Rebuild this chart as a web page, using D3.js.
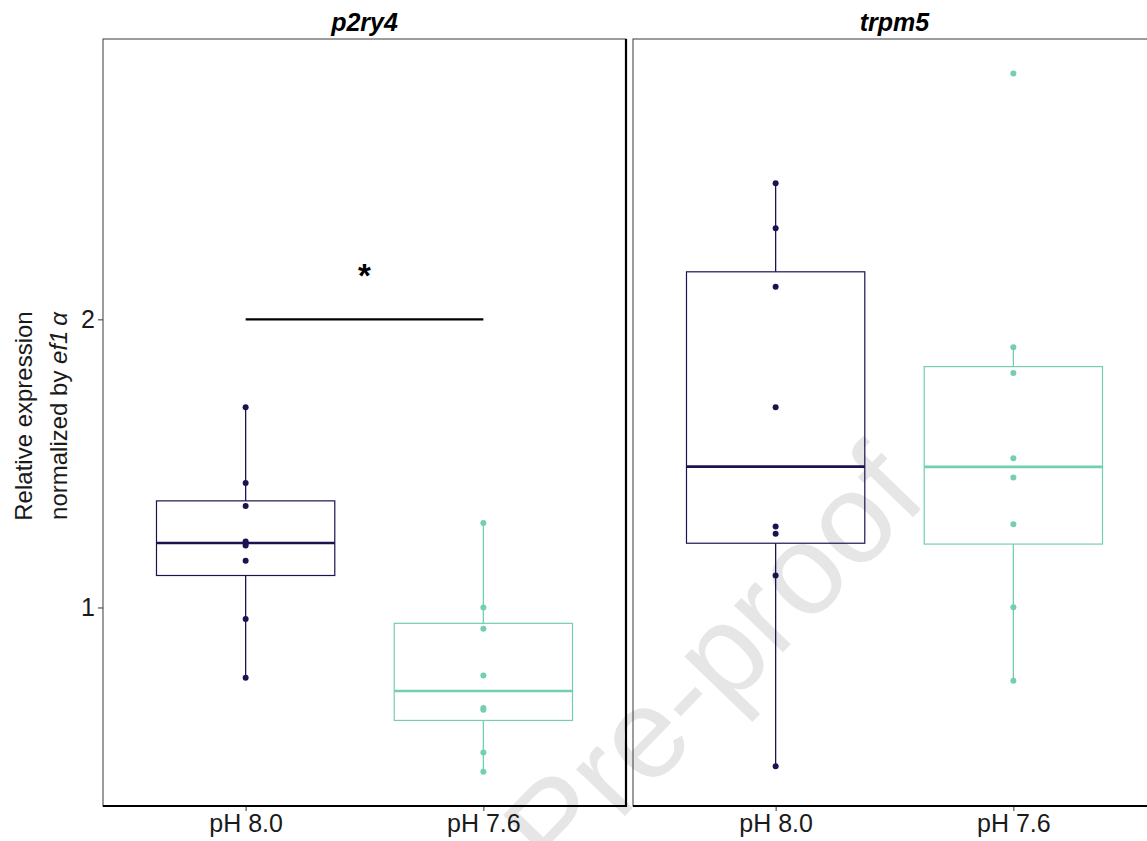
<!DOCTYPE html>
<html>
<head>
<meta charset="utf-8">
<script src="https://cdn.jsdelivr.net/npm/d3@7"></script>
<style>
  body { margin: 0; background: #fff; overflow: hidden; }
  text { font-family: "Liberation Sans", Arial, sans-serif; }
</style>
</head>
<body>
<div id="chart"></div>
<script>
// values (relative expression, normalized by ef1a)
var genes = ["p2ry4", "trpm5"];
var groups = ["pH 8.0", "pH 7.6"];
var groupColors = ["#1e1150", "#74cfaf"];

// individual samples per gene, per group
var p2ry4Points = [
  [1.695, 1.432, 1.352, 1.229, 1.223, 1.215, 1.162, 0.960, 0.756],
  [1.293, 1.000, 0.926, 0.764, 0.651, 0.645, 0.497, 0.430]
];
var trpm5Points = [
  [2.472, 2.316, 2.113, 1.695, 1.281, 1.256, 1.111, 0.449],
  [2.853, 1.903, 1.814, 1.518, 1.451, 1.289, 1.001, 0.746]
];

// box stats: [lower whisker, q1, median, q3, upper whisker]
var p2ry4Box = [
  [0.756, 1.111, 1.224, 1.370, 1.695],
  [0.430, 0.608, 0.710, 0.945, 1.293]
];
var trpm5Box = [
  [0.449, 1.223, 1.489, 2.165, 2.472],
  [0.746, 1.220, 1.488, 1.836, 1.903]
];

var yTicks = [1, 2];
var yDomain = [0.311, 2.973];
var sigY = 2.0;        // significance bar, p2ry4 only
var sigLabel = "*";

var svgWidth = 1147;
var svgHeight = 841;

var margin = { top: 39, left: 103 };
var panelWidth = 523;
var panelGap = 7;
var panelHeight = 767;
var fontFam = "'Liberation Sans', Arial, sans-serif";

var svg = d3.select("#chart")
  .append("svg")
  .attr("width", svgWidth)
  .attr("height", svgHeight);

// watermark behind everything
svg.append("text")
  .attr("transform", "translate(930, 500) rotate(-46)")
  .attr("text-anchor", "end")
  .attr("font-size", 128)
  .attr("fill", "#e6e6e6")
  .text("Pre-proof");

var yScale = d3.scaleLinear()
  .domain(yDomain)
  .range([panelHeight, 0]);

var panelData = [
  { gene: genes[0], points: p2ry4Points, box: p2ry4Box, sig: true },
  { gene: genes[1], points: trpm5Points, box: trpm5Box, sig: false }
];

panelData.forEach(function (p, i) {
  var x0 = margin.left + i * (panelWidth + panelGap);
  var g = svg.append("g").attr("transform", `translate(${x0}, ${margin.top})`);

  var xScale = d3.scalePoint()
    .domain(groups)
    .range([0, panelWidth])
    .padding(0.6);
  var boxW = xScale.step() * 0.75;

  // panel border
  g.append("rect")
    .attr("width", panelWidth)
    .attr("height", panelHeight)
    .attr("fill", "none")
    .attr("stroke", "#3a3a3a")
    .attr("stroke-width", 1);

  // boxes
  groups.forEach(function (grp, j) {
    var b = p.box[j];
    var cx = xScale(grp);
    var col = groupColors[j];
    var bg = g.append("g");

    bg.append("line")
      .attr("x1", cx).attr("x2", cx)
      .attr("y1", yScale(b[3])).attr("y2", yScale(b[4]))
      .attr("stroke", col).attr("stroke-width", 1.3);
    bg.append("line")
      .attr("x1", cx).attr("x2", cx)
      .attr("y1", yScale(b[1])).attr("y2", yScale(b[0]))
      .attr("stroke", col).attr("stroke-width", 1.3);

    bg.append("rect")
      .attr("x", cx - boxW / 2)
      .attr("y", yScale(b[3]))
      .attr("width", boxW)
      .attr("height", yScale(b[1]) - yScale(b[3]))
      .attr("fill", "none")
      .attr("stroke", col)
      .attr("stroke-width", 1.2);

    bg.append("line")
      .attr("x1", cx - boxW / 2).attr("x2", cx + boxW / 2)
      .attr("y1", yScale(b[2])).attr("y2", yScale(b[2]))
      .attr("stroke", col).attr("stroke-width", 2.6);

    bg.selectAll("circle")
      .data(p.points[j])
      .join("circle")
      .attr("cx", cx)
      .attr("cy", d => yScale(d))
      .attr("r", 3)
      .attr("fill", col);
  });

  // significance bar
  if (p.sig) {
    g.append("line")
      .attr("x1", xScale(groups[0])).attr("x2", xScale(groups[1]))
      .attr("y1", yScale(sigY)).attr("y2", yScale(sigY))
      .attr("stroke", "#000").attr("stroke-width", 2.2);
    g.append("text")
      .attr("x", (xScale(groups[0]) + xScale(groups[1])) / 2)
      .attr("y", yScale(sigY) - 32)
      .attr("text-anchor", "middle")
      .attr("font-size", 33)
      .attr("font-weight", "bold")
      .text(sigLabel);
  }

  // bottom axis
  var bottomAxis = d3.axisBottom(xScale).tickSize(5).tickPadding(3);
  var ax = g.append("g")
    .attr("transform", `translate(0, ${panelHeight})`)
    .call(bottomAxis);
  ax.select(".domain").remove();
  ax.selectAll(".tick line").attr("stroke", "#333");
  ax.selectAll("text").attr("font-size", 25).attr("fill", "#1a1a1a")
    .style("font-family", fontFam);
  g.append("line")
    .attr("x1", 0).attr("x2", panelWidth)
    .attr("y1", panelHeight).attr("y2", panelHeight)
    .attr("stroke", "#000").attr("stroke-width", 2.2);

  if (i === 0) {
    // right edge of first panel is drawn heavier
    g.append("line")
      .attr("x1", panelWidth).attr("x2", panelWidth)
      .attr("y1", 0).attr("y2", panelHeight + 1)
      .attr("stroke", "#000").attr("stroke-width", 2.2);

    var leftAxis = d3.axisLeft(yScale).tickValues(yTicks).tickSize(5).tickPadding(3)
      .tickFormat(d3.format("d"));
    var ay = g.append("g").call(leftAxis);
    ay.select(".domain").remove();
    ay.selectAll(".tick line").attr("stroke", "#333");
    ay.selectAll("text").attr("font-size", 25).attr("fill", "#1a1a1a")
      .style("font-family", fontFam);
  }

  // facet title
  svg.append("text")
    .attr("x", x0 + panelWidth / 2)
    .attr("y", 31)
    .attr("text-anchor", "middle")
    .attr("font-size", 25)
    .attr("font-weight", "bold")
    .attr("font-style", "italic")
    .text(p.gene);
});

// y axis title, two lines
var yMid = 416;
svg.append("text")
  .attr("transform", `translate(32, ${yMid}) rotate(-90)`)
  .attr("text-anchor", "middle")
  .attr("font-size", 24)
  .attr("fill", "#1a1a1a")
  .text("Relative expression");
var t2 = svg.append("text")
  .attr("transform", `translate(67, ${yMid}) rotate(-90)`)
  .attr("text-anchor", "middle")
  .attr("font-size", 24)
  .attr("fill", "#1a1a1a");
t2.append("tspan").text("normalized by ");
t2.append("tspan").attr("font-style", "italic").text("ef1\u2009\u03b1");
</script>
</body>
</html>
